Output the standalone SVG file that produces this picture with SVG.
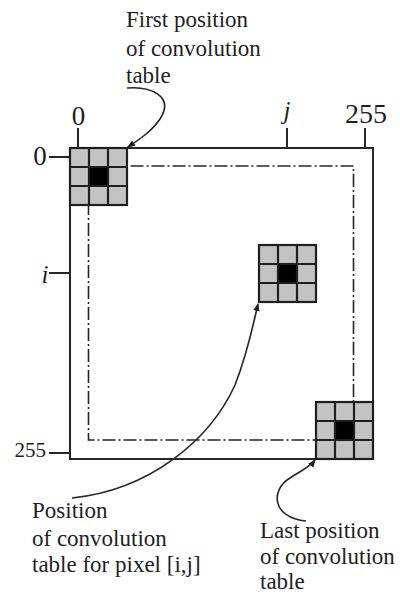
<svg xmlns="http://www.w3.org/2000/svg" width="400" height="596" viewBox="0 0 400 596">
<style>
  .ln { stroke: #262626; stroke-width: 2; fill: none; }
  .dash { stroke: #262626; stroke-width: 1.6; fill: none; stroke-dasharray: 13 3 2 3; }
  .arr { stroke: #262626; stroke-width: 1.6; fill: none; marker-end: url(#ah); }
  .cell { fill: #c3c3c3; }
  .gl { stroke: #1e1e1e; stroke-width: 2.2; fill: none; }
  text { fill: #1e1e1e; }
</style>
<defs>
  <marker id="ah" markerWidth="8" markerHeight="8" refX="7" refY="4" orient="auto" markerUnits="userSpaceOnUse">
    <path d="M0,0.8 L8,4 L0,7.2 Z" fill="#1e1e1e"/>
  </marker>
  <g id="grid">
    <rect class="cell" x="0" y="0" width="57" height="57"/>
    <rect x="19" y="19" width="19" height="19" fill="#000"/>
    <rect class="gl" x="0" y="0" width="57" height="57"/>
    <path class="gl" d="M19,0V57M38,0V57M0,19H57M0,38H57"/>
  </g>
</defs>

<g id="image-frame">
  <rect class="ln" x="70" y="148" width="303" height="311"/>
  <rect class="dash" x="88.5" y="166" width="265" height="274"/>
</g>

<g id="axis-labels" font-family="Liberation Serif, Times New Roman, serif">
  <path class="ln" d="M78,128V148M287,128V148M365,128V148M49,157H70M49,273H70M49,453H70"/>
  <text x="78.5" y="125" font-size="27" text-anchor="middle">0</text>
  <text x="287" y="119" font-size="25" font-style="italic" text-anchor="middle">j</text>
  <text x="366" y="123" font-size="28" text-anchor="middle">255</text>
  <text x="40" y="165" font-size="27" text-anchor="middle">0</text>
  <text x="45" y="283" font-size="25" font-style="italic" text-anchor="middle">i</text>
  <text x="46" y="457" font-size="21" text-anchor="end">255</text>
</g>

<g id="table-first"><use href="#grid" x="70" y="148"/></g>
<g id="table-pixel"><use href="#grid" x="259" y="245"/></g>
<g id="table-last"><use href="#grid" x="316" y="402"/></g>

<g id="connectors">
  <path class="arr" d="M127,88 C150,86 175,96 160,119 C152,131 140,139 128,147"/>
  <path class="arr" d="M72,498 C150,490 210,440 235,385 C248,352 253,325 258,304"/>
  <path class="arr" d="M306,521 C272,518 270,490 290,478 C300,471 309,468 315,460"/>
</g>

<g id="label-first" font-family="Liberation Serif, Times New Roman, serif" font-size="23">
  <text x="126" y="27">First position</text>
  <text x="126" y="56">of convolution</text>
  <text x="126" y="83">table</text>
</g>
<g id="label-pixel" font-family="Liberation Serif, Times New Roman, serif" font-size="23">
  <text x="32" y="518">Position</text>
  <text x="32" y="546">of convolution</text>
  <text x="32" y="572">table for pixel [i,j]</text>
</g>
<g id="label-last" font-family="Liberation Serif, Times New Roman, serif" font-size="23">
  <text x="260" y="538">Last position</text>
  <text x="260" y="564">of convolution</text>
  <text x="260" y="589">table</text>
</g>
</svg>
